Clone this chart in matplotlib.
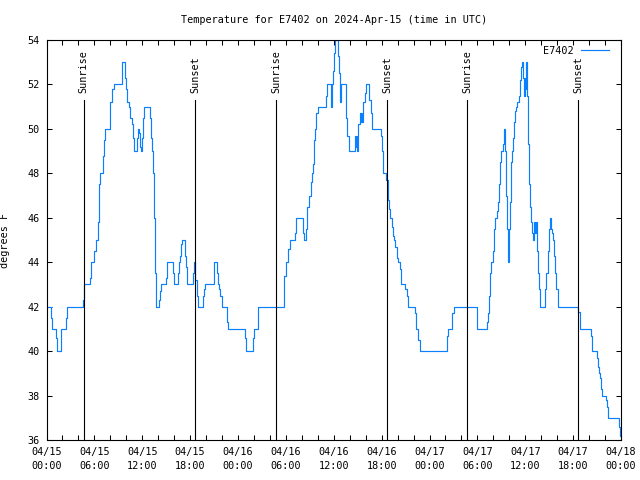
import matplotlib
matplotlib.use("Agg")
import matplotlib.pyplot as plt
from matplotlib.ticker import MultipleLocator, FixedLocator, FixedFormatter

# hours since 2024-04-15 00:00 UTC, and temperature (degrees F) from that time on
hours = [0.00, 0.60, 0.70, 1.22, 1.34, 1.76, 1.84, 2.50, 2.60, 4.55, 4.68, 5.44, 5.52, 5.93,
         6.23, 6.43, 6.56, 6.73, 7.06, 7.15, 7.27, 7.90, 7.99, 8.15, 8.40, 9.50, 9.78, 9.95,
         10.08, 10.29, 10.50, 10.70, 10.83, 10.95, 11.33, 11.45, 11.58, 11.67, 11.79, 11.95,
         12.08, 12.20, 12.96, 13.05, 13.17, 13.34, 13.46, 13.55, 13.67, 14.05, 14.17, 14.30,
         14.93, 15.10, 15.85, 15.97, 16.47, 16.56, 16.72, 16.85, 16.97, 17.31, 17.40, 17.52,
         17.65, 18.31, 18.45, 18.55, 18.65, 18.82, 18.98, 19.57, 19.69, 19.86, 20.95, 21.03,
         21.32, 21.45, 21.66, 21.79, 21.95, 22.58, 22.66, 22.79, 24.88, 25.00, 25.84, 25.97,
         26.47, 29.80, 29.98, 30.27, 30.48, 31.11, 31.23, 32.15, 32.28, 32.57, 32.70, 32.86,
         33.12, 33.24, 33.41, 33.53, 33.66, 33.78, 34.08, 35.00, 35.20, 35.62, 35.84, 35.92,
         36.04, 36.17, 36.47, 36.60, 36.80, 36.95, 37.55, 37.72, 37.92, 38.64, 38.76, 38.89,
         38.97, 39.10, 39.26, 39.39, 39.51, 39.60, 39.72, 39.89, 40.01, 40.43, 40.64, 40.77,
         41.90, 42.02, 42.15, 42.23, 42.61, 42.74, 42.86, 42.94, 43.06, 43.24, 43.37, 43.49,
         43.69, 43.90, 44.07, 44.28, 44.41, 44.95, 45.16, 45.32, 46.16, 46.29, 46.55, 46.79,
         50.17, 50.34, 50.84, 51.09, 53.98, 55.16, 55.32, 55.40, 55.53, 55.69, 55.95, 56.03,
         56.16, 56.45, 56.57, 56.70, 56.79, 56.95, 57.16, 57.29, 57.37, 57.45, 57.58, 57.70,
         57.83, 57.91, 58.04, 58.20, 58.33, 58.45, 58.54, 58.66, 58.87, 58.99, 59.17, 59.30,
         59.46, 59.55, 59.67, 59.80, 59.96, 60.05, 60.13, 60.21, 60.34, 60.46, 60.55, 60.67,
         60.80, 60.92, 61.05, 61.17, 61.30, 61.46, 61.59, 61.76, 61.88, 62.51, 62.63, 62.80,
         62.93, 63.05, 63.26, 63.35, 63.47, 63.64, 63.76, 63.89, 64.06, 66.65, 66.80, 66.90,
         68.24, 68.32, 68.40, 68.99, 69.07, 69.24, 69.40, 69.53, 69.66, 70.16, 70.24, 70.37,
         71.71, 71.92, 72.00]
temps = [42, 41.5, 41, 40.6, 40, 40.5, 41, 41.5, 42, 42.3, 43, 43.3, 44, 44.5,
         45, 45.8, 47.5, 48, 48.8, 49.5, 50, 50.5, 51.2, 51.8, 52, 53, 52.3, 51.8,
         51.2, 51, 50.5, 50.2, 49.6, 49, 49.6, 50, 49.8, 49.2, 49, 49.6,
         50.5, 51, 50.5, 49.6, 49, 48, 46, 43.5, 42, 42.3, 42.7, 43,
         43.3, 44, 43.5, 43, 43.5, 44, 44.3, 44.8, 45, 44.8, 44.3, 43.8,
         43, 43.5, 44, 43.8, 43.2, 42.5, 42, 42.5, 42.8, 43, 43.5, 44,
         43.5, 43, 42.8, 42.5, 42, 41.7, 41.3, 41, 40.6, 40, 40.6, 41,
         42, 43.4, 44, 44.6, 45, 45.3, 46, 45.3, 45, 45.5, 46.5, 47,
         47.6, 48, 48.4, 49.5, 50, 50.7, 51, 51.5, 52, 51, 52, 52.6,
         53.4, 54, 53.3, 52.5, 51.2, 52, 50.5, 49.7, 49, 49.7, 49.2, 49.7,
         49, 50.2, 50.7, 50.3, 50.7, 50.3, 51.2, 51.6, 52, 51.3, 50.7, 50,
         49.7, 49, 48.5, 48, 47.7, 47.3, 46.8, 46.4, 46, 45.6, 45.2, 45,
         44.7, 44.2, 44, 43.7, 43, 42.8, 42.5, 42, 41.7, 41, 40.5, 40,
         40.7, 41, 41.7, 42, 41, 41.3, 41.7, 42.5, 43.5, 44, 44.5, 45.5,
         46, 46.3, 46.7, 47.5, 48.5, 49, 49.3, 49.7, 50, 49, 47, 45.5,
         44, 45.5, 46.7, 48.5, 49, 49.6, 50.3, 50.8, 51, 51.2, 51.5, 52.2,
         52.8, 53, 52.3, 51.5, 52.3, 51.8, 53, 51.5, 49.3, 47.5, 46.5, 45.8,
         45.3, 45, 45.8, 45.3, 45.8, 44.5, 43.5, 42.8, 42, 42.8, 43.5, 44.5,
         45.5, 46, 45.5, 45.3, 45, 44.3, 43.5, 42.8, 42, 41.75, 41.3, 41,
         40.7, 40.3, 40, 39.7, 39.3, 39, 38.8, 38.3, 38, 37.8, 37.5, 37,
         36.6, 36.2, 36.2]

sun_hours = [4.68, 18.60, 28.75, 42.69, 52.73, 66.65]
sun_labels = ["Sunrise", "Sunset", "Sunrise", "Sunset", "Sunrise", "Sunset"]

xtick_hours = [0, 6, 12, 18, 24, 30, 36, 42, 48, 54, 60, 66, 72]
xtick_labels = ["04/15\n00:00", "04/15\n06:00", "04/15\n12:00", "04/15\n18:00",
                "04/16\n00:00", "04/16\n06:00", "04/16\n12:00", "04/16\n18:00",
                "04/17\n00:00", "04/17\n06:00", "04/17\n12:00", "04/17\n18:00",
                "04/18\n00:00"]

series_name = "E7402"
title = "Temperature for E7402 on 2024-Apr-15 (time in UTC)"

FONT = "DejaVu Sans Mono"
FS = 7.3
plt.rcParams['font.family'] = [FONT]
plt.rcParams['font.size'] = FS

fig = plt.figure(figsize=(6.4, 4.8), dpi=100)
L, R, T, B = 46.5, 621, 40, 440
ax = fig.add_axes([L / 640, 1 - B / 480, (R - L) / 640, (B - T) / 480])

ax.plot(hours, temps, drawstyle="steps-post", color="#0a80ff", lw=0.85, label=series_name)

for h, lab in zip(sun_hours, sun_labels):
    ax.plot([h, h], [0, 0.85], color="black", lw=0.8, transform=ax.get_xaxis_transform())
    ax.text(h, 0.868, lab, rotation=90, ha="center", va="bottom",
            transform=ax.get_xaxis_transform(), fontsize=FS)

ax.set_xlim(0, 72)
ax.set_ylim(36, 54)
ax.xaxis.set_major_locator(FixedLocator(xtick_hours))
ax.xaxis.set_major_formatter(FixedFormatter(xtick_labels))
ax.xaxis.set_minor_locator(MultipleLocator(2))
ax.yaxis.set_major_locator(MultipleLocator(2))
ax.tick_params(axis="both", which="both", direction="in", top=True, right=True,
               length=3.6, width=0.75, labelsize=FS)
ax.tick_params(axis="x", which="major", pad=5)
ax.tick_params(axis="y", which="major", pad=5)
for lbl in ax.get_xticklabels():
    lbl.set_linespacing(1.5)

for sp in ax.spines.values():
    sp.set_linewidth(0.8)

ax.set_ylabel("degrees F", fontsize=FS)
ax.yaxis.set_label_coords(-(L - 10) / (R - L), 0.5)

fig.text((L + R) / 2 / 640, 1 - 20 / 480, title, ha="center", va="center", fontsize=FS)

ax.legend(loc="upper right", frameon=False, markerfirst=False, handlelength=2.8,
          handletextpad=0.7, borderaxespad=0, borderpad=0,
          bbox_to_anchor=((609 - L) / (R - L), 0.985), fontsize=FS)

fig.savefig("out.png", dpi=100)
